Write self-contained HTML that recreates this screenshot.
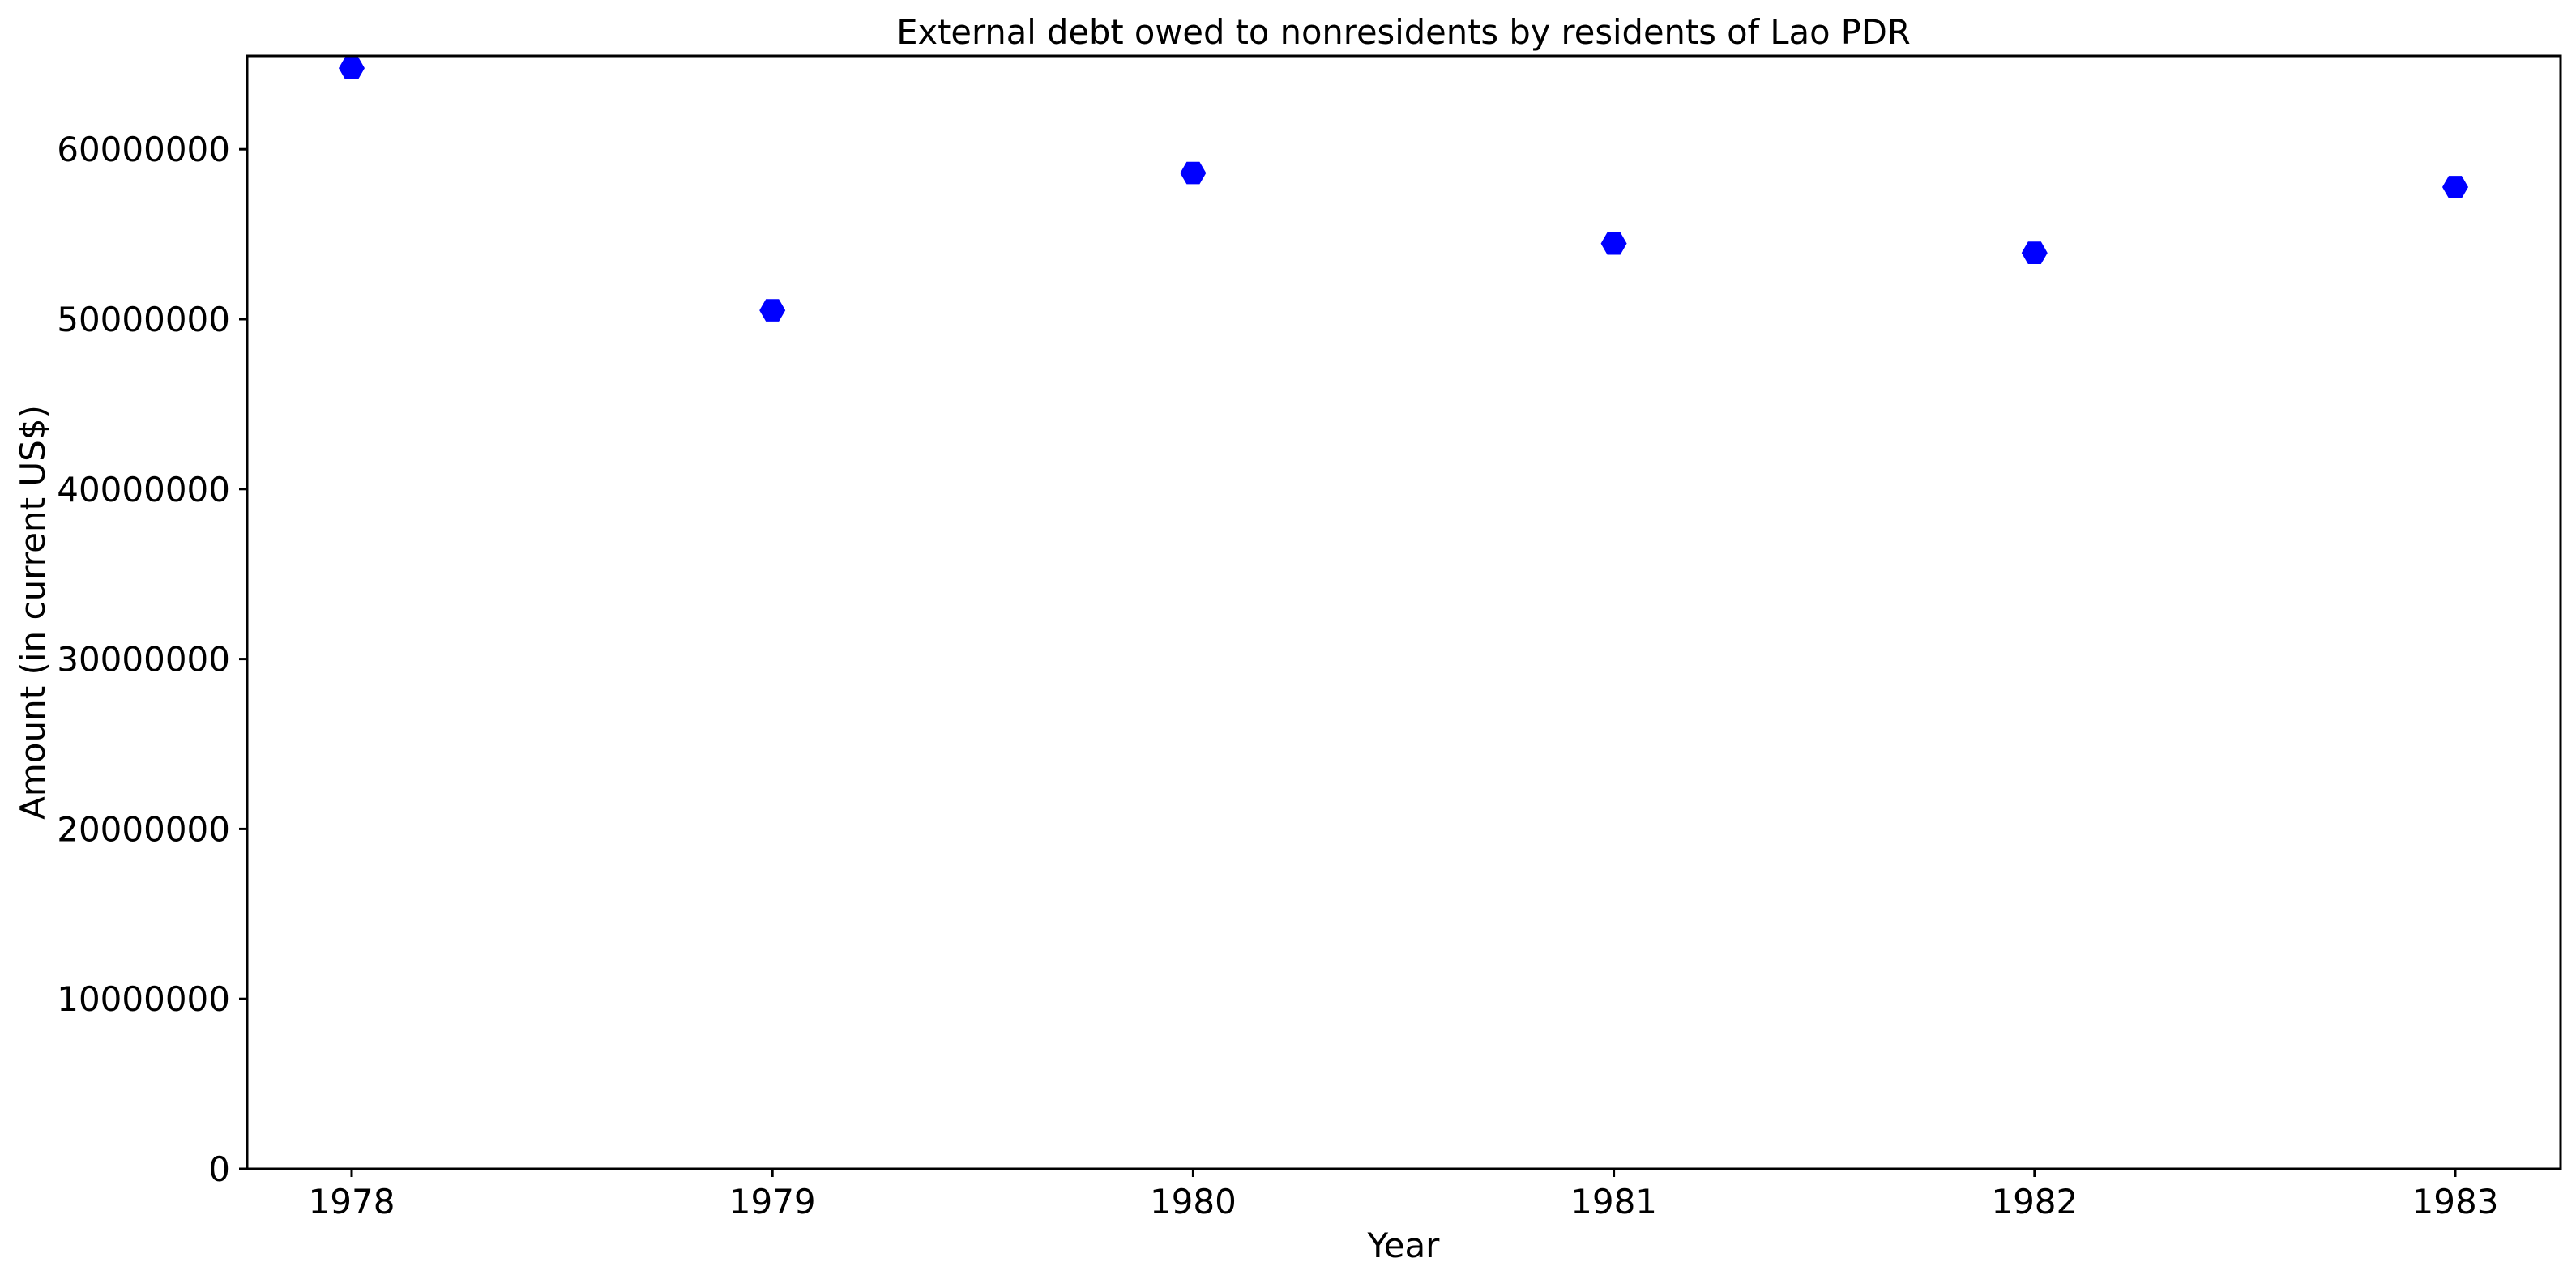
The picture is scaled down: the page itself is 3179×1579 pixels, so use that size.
<!DOCTYPE html>
<html><head><meta charset="utf-8"><style>
html,body{margin:0;padding:0;background:#fff;}
svg{display:block;font-family:"DejaVu Sans","Liberation Sans",sans-serif;}
</style></head><body>
<svg id="chart" width="3179" height="1579" viewBox="0 0 3179 1579" xmlns="http://www.w3.org/2000/svg">
<rect width="3179" height="1579" fill="#fff"/>
<text x="1732" y="54" font-size="41.6" text-anchor="middle">External debt owed to nonresidents by residents of Lao PDR</text>
<g id="yticks"></g>
<g id="xticks"></g>
<g id="points"></g>
<rect x="305" y="69" width="2855" height="1374" fill="none" stroke="#000" stroke-width="3"/>
<text x="1732" y="1552" font-size="42" text-anchor="middle">Year</text>
<text transform="translate(55,756) rotate(-90)" font-size="42" text-anchor="middle">Amount (in current US$)</text>
</svg>
<script>
const years = [1978, 1979, 1980, 1981, 1982, 1983];
const values = [64770000, 50520000, 58600000, 54450000, 53900000, 57770000];
const yTickValues = [0, 10000000, 20000000, 30000000, 40000000, 50000000, 60000000];
const yTickLabels = ["0", "10000000", "20000000", "30000000", "40000000", "50000000", "60000000"];
const NS = "http://www.w3.org/2000/svg";
function xScale(yr){ return 434 + (yr - 1978) * 519.2; }
function yScale(v){ return 1443 - v / 1e7 * 209.8; }
function mk(tag, attrs, parent){ const e=document.createElementNS(NS,tag); for(const k in attrs) e.setAttribute(k,attrs[k]); parent.appendChild(e); return e; }
const yt=document.getElementById('yticks');
yTickValues.forEach((v,i)=>{
  const y=yScale(v);
  const l=mk('line',{x1:295,x2:305,y1:y,y2:y,stroke:'#000','stroke-width':3},yt);
  
  
  const t=mk('text',{x:284,y:y+15,'font-size':42,'text-anchor':'end'},yt);
  t.textContent=yTickLabels[i];
  
  
});
const xt=document.getElementById('xticks');
years.forEach(yr=>{
  const x=xScale(yr);
  const l=mk('line',{x1:x,x2:x,y1:1443,y2:1453,stroke:'#000','stroke-width':3},xt);
  
  
  const t=mk('text',{x:x,y:1498,'font-size':42,'text-anchor':'middle'},xt);
  t.textContent=String(yr);
  
  
});
const pg=document.getElementById('points');
years.forEach((yr,i)=>{
  const cx=xScale(yr), cy=yScale(values[i]), r=16;
  const pts=[];
  for(let k=0;k<6;k++){ const a=Math.PI/3*k; pts.push((cx+r*Math.cos(a)).toFixed(1)+','+(cy+r*Math.sin(a)).toFixed(1)); }
  const p=mk('polygon',{points:pts.join(' '),fill:'#0000ff'},pg);
  
  
});
</script>
</body></html>
